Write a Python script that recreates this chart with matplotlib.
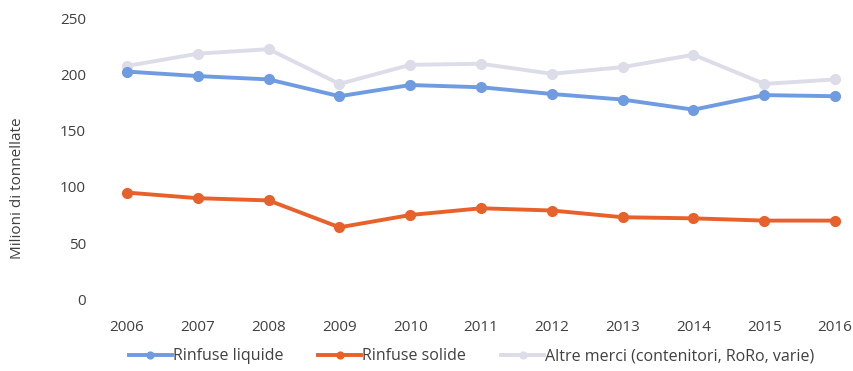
import matplotlib
matplotlib.use("Agg")
import matplotlib.pyplot as plt

plt.rcParams['font.family'] = ['Open Sans', 'DejaVu Sans']

# data
years = [2006, 2007, 2008, 2009, 2010, 2011, 2012, 2013, 2014, 2015, 2016]
liquide = [203, 199, 196, 181, 191, 189, 183, 178, 169, 182, 181]
solide = [95, 90, 88, 64, 75, 81, 79, 73, 72, 70, 70]
altre = [208, 219, 223, 192, 209, 210, 201, 207, 218, 192, 196]
labels = ["Rinfuse liquide", "Rinfuse solide", "Altre merci (contenitori, RoRo, varie)"]
colors = ["#6f9be0", "#e8602a", "#dcdde8"]

fig = plt.figure(figsize=(8.54, 3.71), dpi=100)
ax = fig.add_axes([0.1073, 0.194, 0.912, 0.755])

series = [liquide, solide, altre]
lines = []
for vals, lab, c, z in zip(series, labels, colors, [3, 3, 2]):
    l, = ax.plot(years, vals, color=c, lw=2.8, marker='o', ms=7, label=lab,
                 zorder=z, clip_on=False)
    lines.append(l)

ax.set_xlim(2005.5, 2016.5)
ax.set_ylim(0, 250)
ax.set_xticks(years)
ax.set_yticks([0, 50, 100, 150, 200, 250])
for s in ax.spines.values():
    s.set_visible(False)
ax.tick_params(length=0, labelsize=11, colors='#404040')
ax.tick_params(axis='x', pad=15)
ax.tick_params(axis='y', pad=4)
ax.set_ylabel("Milioni di tonnellate", fontsize=11, color='#404040')
ax.yaxis.set_label_coords(-0.086, 0.396)

fig.legend(lines, labels, loc='center left', bbox_to_anchor=(0.134, 0.04),
           ncol=3, frameon=False, fontsize=11.5, handlelength=2.7,
           handletextpad=0.05, columnspacing=2.2, labelcolor='#404040',
           markerscale=0.7)

fig.savefig("out.png", dpi=100)
